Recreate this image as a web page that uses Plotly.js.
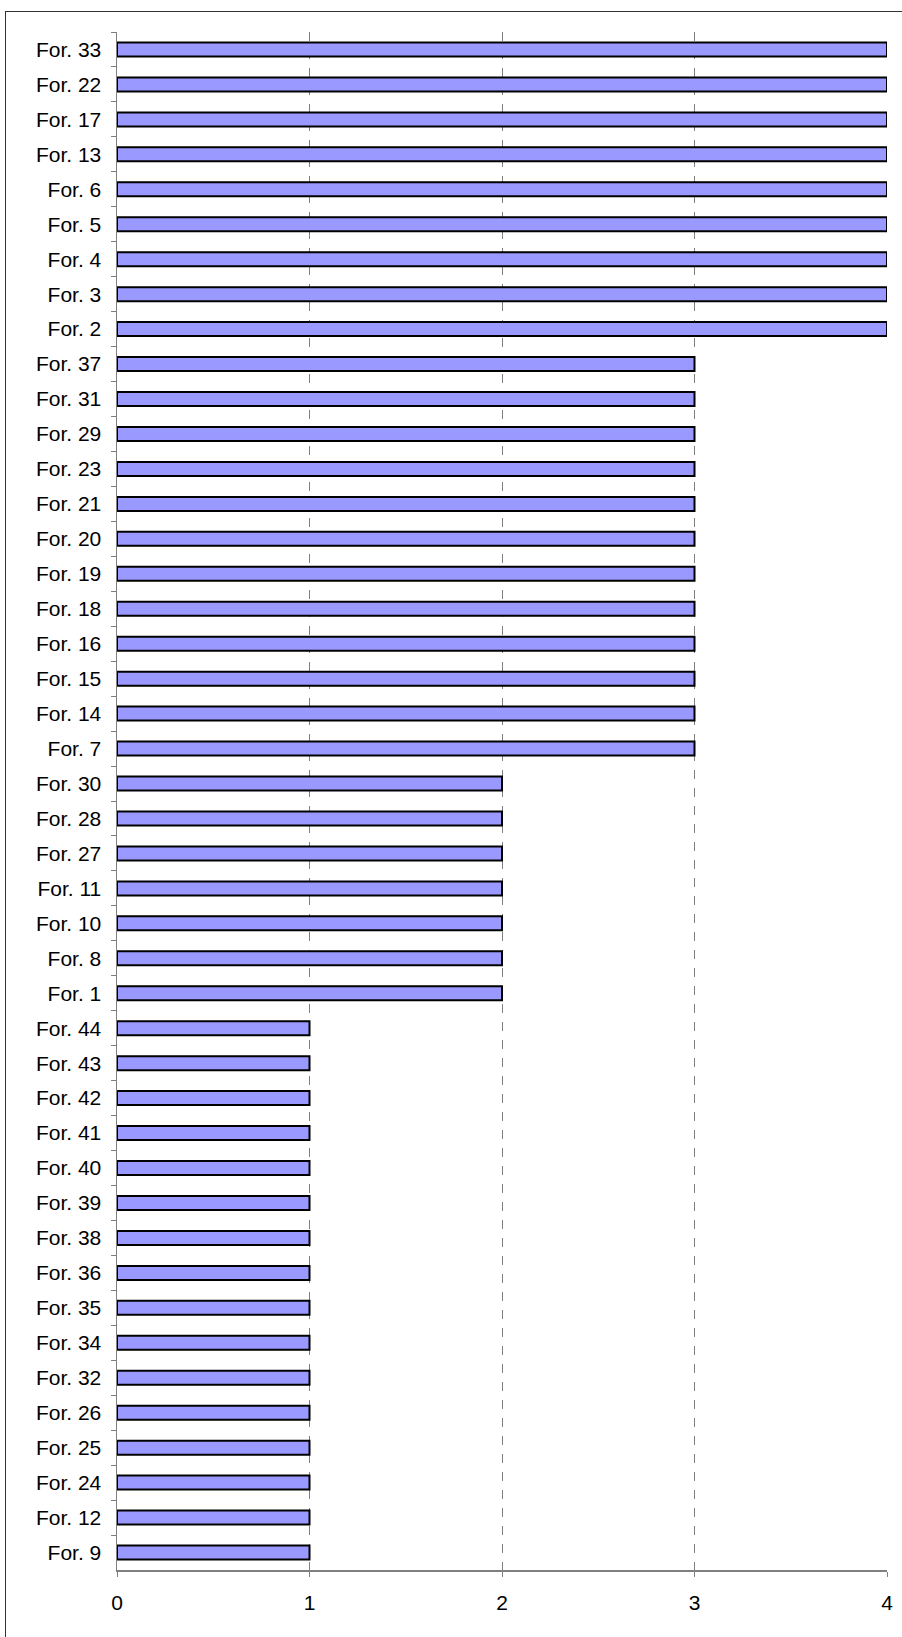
<!DOCTYPE html>
<html>
<head>
<meta charset="utf-8">
<script src="https://cdn.plot.ly/plotly-3.0.1.min.js"></script>
<style>
html,body{margin:0;padding:0;background:#fff;}
#wrap{position:relative;width:902px;height:1637px;overflow:hidden;}
#frame{position:absolute;left:5px;top:11px;width:1000px;height:2000px;border-top:1.5px solid #333;border-left:1.5px solid #333;}
#chart{position:absolute;left:0;top:0;width:902px;height:1637px;}
</style>
</head>
<body>
<div id="wrap">
<div id="frame"></div>
<div id="chart"></div>
</div>
<script>
// Categories listed top to bottom as in the reference
const categories = [
  "For. 33","For. 22","For. 17","For. 13","For. 6","For. 5","For. 4","For. 3","For. 2",
  "For. 37","For. 31","For. 29","For. 23","For. 21","For. 20","For. 19","For. 18","For. 16","For. 15","For. 14","For. 7",
  "For. 30","For. 28","For. 27","For. 11","For. 10","For. 8","For. 1",
  "For. 44","For. 43","For. 42","For. 41","For. 40","For. 39","For. 38","For. 36","For. 35","For. 34","For. 32","For. 26","For. 25","For. 24","For. 12","For. 9"
];
const values = [
  4,4,4,4,4,4,4,4,4,
  3,3,3,3,3,3,3,3,3,3,3,3,
  2,2,2,2,2,2,2,
  1,1,1,1,1,1,1,1,1,1,1,1,1,1,1,1
];
const xTicks = [0,1,2,3,4];

const trace = {
  type: 'bar',
  orientation: 'h',
  x: values,
  y: categories,
  marker: {color: '#9999FF', line: {color: '#000000', width: 2}},
  hoverinfo: 'x+y'
};

const layout = {
  width: 902,
  height: 1637,
  margin: {l: 117, r: 15, t: 32, b: 67},
  paper_bgcolor: 'rgba(0,0,0,0)',
  plot_bgcolor: 'rgba(0,0,0,0)',
  font: {family: 'Liberation Sans, Arial, sans-serif', size: 21, color: '#000'},
  bargap: 0.6,
  showlegend: false,
  xaxis: {
    range: [0, 4],
    tickvals: xTicks,
    ticktext: xTicks.map(String),
    showgrid: true,
    gridcolor: '#808080',
    griddash: 'dash',
    gridwidth: 1,
    zeroline: false,
    showline: true,
    linecolor: '#808080',
    linewidth: 1.5,
    ticks: 'outside',
    ticklen: 5,
    tickcolor: '#808080',
    tickfont: {size: 21},
    ticklabelstandoff: 8
  },
  yaxis: {
    type: 'category',
    categoryorder: 'array',
    categoryarray: categories,
    range: [categories.length - 0.5, -0.5],
    showgrid: false,
    zeroline: false,
    showline: true,
    linecolor: '#808080',
    linewidth: 1.5,
    ticks: 'outside',
    tickson: 'boundaries',
    ticklen: 5,
    tickcolor: '#808080',
    tickfont: {size: 21},
    ticklabelstandoff: 10
  }
};

Plotly.newPlot('chart', [trace], layout, {displayModeBar: false, staticPlot: true});
</script>
</body>
</html>
